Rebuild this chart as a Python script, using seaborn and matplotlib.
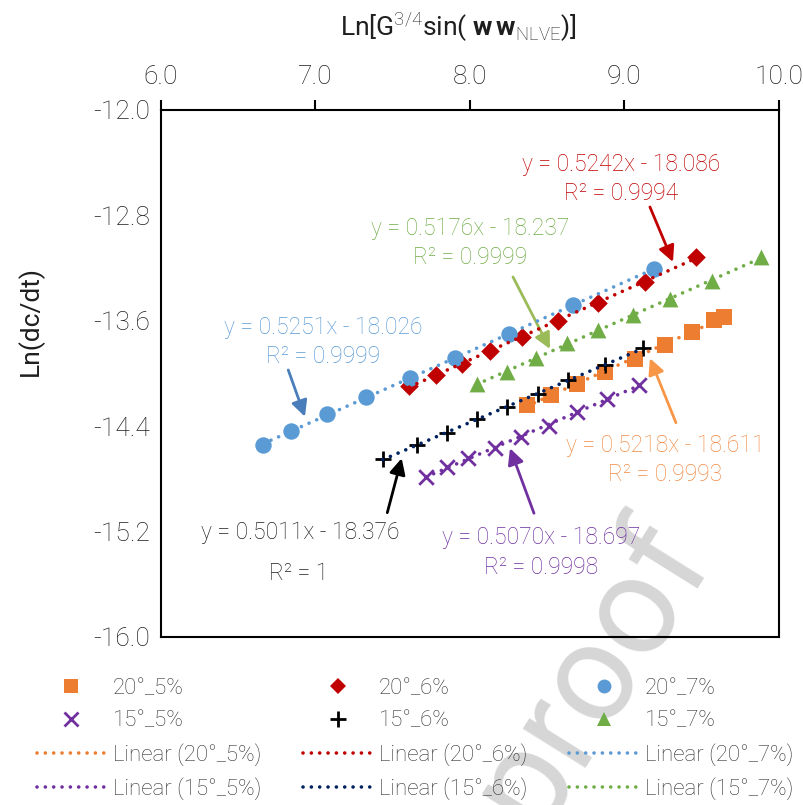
import numpy as np
import pandas as pd
import matplotlib
matplotlib.use("Agg")
import matplotlib.pyplot as plt
from matplotlib.lines import Line2D
import seaborn as sns

# data: x = Ln[G^(3/4) sin(...)], y = Ln(dc/dt)
SERIES = ["20°_5%", "20°_6%", "20°_7%", "15°_5%", "15°_6%", "15°_7%"]

x_20_5 = [8.369, 8.526, 8.692, 8.876, 9.070, 9.264, 9.441, 9.582, 9.646]
y_20_5 = [-14.239, -14.163, -14.080, -13.986, -13.890, -13.784, -13.683, -13.594, -13.573]

x_20_6 = [7.608, 7.779, 7.951, 8.131, 8.340, 8.573, 8.832, 9.135, 9.463]
y_20_6 = [-14.093, -14.011, -13.928, -13.827, -13.721, -13.602, -13.467, -13.303, -13.113]

x_20_7 = [6.663, 6.842, 7.073, 7.328, 7.613, 7.906, 8.256, 8.670, 9.193]
y_20_7 = [-14.543, -14.436, -14.310, -14.181, -14.034, -13.880, -13.700, -13.480, -13.207]

x_15_5 = [7.716, 7.854, 7.990, 8.163, 8.332, 8.515, 8.696, 8.887, 9.098]
y_15_5 = [-14.783, -14.712, -14.644, -14.568, -14.480, -14.396, -14.290, -14.194, -14.087]

x_15_6 = [7.436, 7.660, 7.850, 8.045, 8.239, 8.444, 8.638, 8.876, 9.120]
y_15_6 = [-14.651, -14.543, -14.449, -14.348, -14.252, -14.156, -14.049, -13.933, -13.809]

x_15_7 = [8.045, 8.239, 8.429, 8.632, 8.832, 9.055, 9.297, 9.567, 9.884]
y_15_7 = [-14.080, -13.986, -13.885, -13.771, -13.670, -13.556, -13.437, -13.296, -13.118]

EQUATIONS = {
    "20°_5%": ("y = 0.5218x - 18.611", "R² = 0.9993"),
    "20°_6%": ("y = 0.5242x - 18.086", "R² = 0.9994"),
    "20°_7%": ("y = 0.5251x - 18.026", "R² = 0.9999"),
    "15°_5%": ("y = 0.5070x - 18.697", "R² = 0.9998"),
    "15°_6%": ("y = 0.5011x - 18.376", "R² = 1"),
    "15°_7%": ("y = 0.5176x - 18.237", "R² = 0.9999"),
}

X_TICKS = [6.0, 7.0, 8.0, 9.0, 10.0]
Y_TICKS = [-16.0, -15.2, -14.4, -13.6, -12.8, -12.0]

df = pd.concat([
    pd.DataFrame({"x": x_20_5, "y": y_20_5, "series": "20°_5%"}),
    pd.DataFrame({"x": x_20_6, "y": y_20_6, "series": "20°_6%"}),
    pd.DataFrame({"x": x_20_7, "y": y_20_7, "series": "20°_7%"}),
    pd.DataFrame({"x": x_15_5, "y": y_15_5, "series": "15°_5%"}),
    pd.DataFrame({"x": x_15_6, "y": y_15_6, "series": "15°_6%"}),
    pd.DataFrame({"x": x_15_7, "y": y_15_7, "series": "15°_7%"}),
])

MARKER_COLORS = {"20°_5%": "#ED7D31", "20°_6%": "#C00000", "20°_7%": "#5B9BD5",
                 "15°_5%": "#7030A0", "15°_6%": "black", "15°_7%": "#70AD47"}
LINE_COLORS = {"20°_5%": "#ED7D31", "20°_6%": "#C00000", "20°_7%": "#5B9BD5",
               "15°_5%": "#7030A0", "15°_6%": "#002060", "15°_7%": "#70AD47"}
MARKERS = {"20°_5%": "s", "20°_6%": "D", "20°_7%": "o",
           "15°_5%": "x", "15°_6%": "+", "15°_7%": "^"}
SIZES = {"s": 130, "D": 90, "o": 140, "x": 110, "+": 120, "^": 130}
MSIZE = {"s": 10, "D": 8, "o": 10, "x": 10, "+": 11, "^": 10}

# annotation colours / positions (axes fraction): text centre, arrow start, arrow tip
TEXT_COLORS = {"20°_5%": "#F08A43", "20°_6%": "#C00000", "20°_7%": "#5B9BD5",
               "15°_5%": "#7030A0", "15°_6%": "#1f1f1f", "15°_7%": "#70AD47"}
ARROW_COLORS = {"20°_5%": "#F79646", "20°_6%": "#C00000", "20°_7%": "#4A7EBB",
                "15°_5%": "#7030A0", "15°_6%": "black", "15°_7%": "#9BBB59"}
TEXT_POS = {"20°_5%": (0.8167, 0.3359), "20°_6%": (0.7447, 0.8691),
            "20°_7%": (0.2631, 0.5598), "15°_5%": (0.6160, 0.1603),
            "15°_6%": (0.2258, 0.1979), "15°_7%": (0.5002, 0.7476)}
ARROWS = {"20°_5%": ((0.8337, 0.4066), (0.7916, 0.5288)),
          "20°_6%": ((0.7916, 0.8159), (0.8289, 0.7116)),
          "20°_7%": ((0.2061, 0.5066), (0.2331, 0.4180)),
          "15°_5%": ((0.6039, 0.2347), (0.5650, 0.3581)),
          "15°_6%": ((0.3664, 0.2359), (0.3897, 0.3391)),
          "15°_7%": ((0.5699, 0.6831), (0.6298, 0.5465))}

sns.set_style("white")
plt.rcParams["font.family"] = ["Roboto", "DejaVu Sans"]
plt.rcParams["font.weight"] = "light"
plt.rcParams["mathtext.fontset"] = "custom"
plt.rcParams["mathtext.rm"] = "Roboto:light"
plt.rcParams["mathtext.bf"] = "Roboto:bold"

TICKSIZE = 19
LABELSIZE = 19
EQSIZE = 16.5
LEGENDSIZE = 16
DOTS = (0, (0.01, 2.3))
TXT = "#1f1f1f"

fig = plt.figure(figsize=(8.04, 8.05), dpi=100)
ax = fig.add_axes([0.2002, 0.2087, 0.7683, 0.6547])
ax.set_facecolor("none")

# watermark, runs off the bottom edge as in the source
fig.text(0.735, 0.165, "proof", fontsize=100, color="#d6d6d6", rotation=58,
         ha="center", va="center", zorder=-1, fontweight="normal")

for s in SERIES:
    d = df[df["series"] == s]
    m = MARKERS[s]
    kw = dict(edgecolor=MARKER_COLORS[s], linewidth=0) if m not in "x+" else dict(linewidth=2)
    sns.scatterplot(x=d["x"], y=d["y"], marker=m, color=MARKER_COLORS[s], s=SIZES[m],
                    ax=ax, zorder=3, legend=False, **kw)
for s in SERIES:
    d = df[df["series"] == s]
    sns.regplot(x=d["x"], y=d["y"], scatter=False, ci=None, ax=ax,
                line_kws=dict(color=LINE_COLORS[s], lw=2.6, ls=DOTS,
                              dash_capstyle="round", zorder=4))

for s in SERIES:
    eq, r2 = EQUATIONS[s]
    tx, ty = TEXT_POS[s]
    if s == "15°_6%":
        ax.text(tx, ty, eq, transform=ax.transAxes, ha="center", va="center",
                fontsize=EQSIZE, color=TEXT_COLORS[s])
        ax.text(tx - 0.003, ty - 0.0765, r2, transform=ax.transAxes, ha="center",
                va="center", fontsize=EQSIZE, color=TEXT_COLORS[s])
    else:
        ax.text(tx, ty, eq + "\n" + r2, transform=ax.transAxes, ha="center",
                va="center", fontsize=EQSIZE, color=TEXT_COLORS[s], linespacing=1.38)
    start, tip = ARROWS[s]
    ax.annotate("", xy=tip, xytext=start, xycoords="axes fraction",
                textcoords="axes fraction",
                arrowprops=dict(arrowstyle="-|>", color=ARROW_COLORS[s], lw=2,
                                mutation_scale=24, shrinkA=0, shrinkB=0))

ax.set_xlim(6.0, 10.0)
ax.set_ylim(-16.0, -12.0)
ax.set_xticks(X_TICKS)
ax.set_yticks(Y_TICKS)
ax.set_xticklabels([f"{v:.1f}" for v in X_TICKS], fontsize=TICKSIZE)
ax.set_yticklabels([f"{v:.1f}" for v in Y_TICKS], fontsize=TICKSIZE)
ax.xaxis.tick_top()
ax.xaxis.set_label_position("top")
ax.tick_params(axis="both", direction="out", length=7, width=1.5, colors="black",
               labelcolor=TXT)
ax.tick_params(axis="x", pad=8)
ax.tick_params(axis="y", pad=1)
for sp in ax.spines.values():
    sp.set_visible(True)
    sp.set_linewidth(1.5)
    sp.set_color("black")

ax.set_xlabel(r"Ln[G$^{3/4}$sin( $\mathbf{w\,w}_{\mathrm{NLVE}}$)]", fontsize=LABELSIZE,
              color=TXT)
ax.xaxis.set_label_coords(0.482, 1.14)
ax.set_ylabel("Ln(dc/dt)", fontsize=LABELSIZE, color=TXT)
ax.yaxis.set_label_coords(-0.19, 0.60)

# legend: 3 columns, rows = markers 20°, markers 15°, lines 20°, lines 15°
cols = [["20°_5%", "15°_5%"], ["20°_6%", "15°_6%"], ["20°_7%", "15°_7%"]]
handles, labels = [], []
for pair in cols:
    for s in pair:
        m = MARKERS[s]
        handles.append(Line2D([], [], ls="", marker=m, color=MARKER_COLORS[s],
                              markersize=MSIZE[m], markeredgewidth=2 if m in "x+" else 0))
        labels.append(s)
    for s in pair:
        handles.append(Line2D([], [], color=LINE_COLORS[s], lw=2.6, ls=DOTS,
                              dash_capstyle="round"))
        labels.append(f"Linear ({s})")
fig.legend(handles, labels, ncol=3, loc="upper left", bbox_to_anchor=(0.046, 0.158),
           frameon=False, fontsize=LEGENDSIZE, handlelength=3.1, handletextpad=0.3,
           columnspacing=1.9, labelspacing=0.52, borderpad=0, borderaxespad=0,
           labelcolor="#333333")

plt.savefig("out.png", dpi=100)
